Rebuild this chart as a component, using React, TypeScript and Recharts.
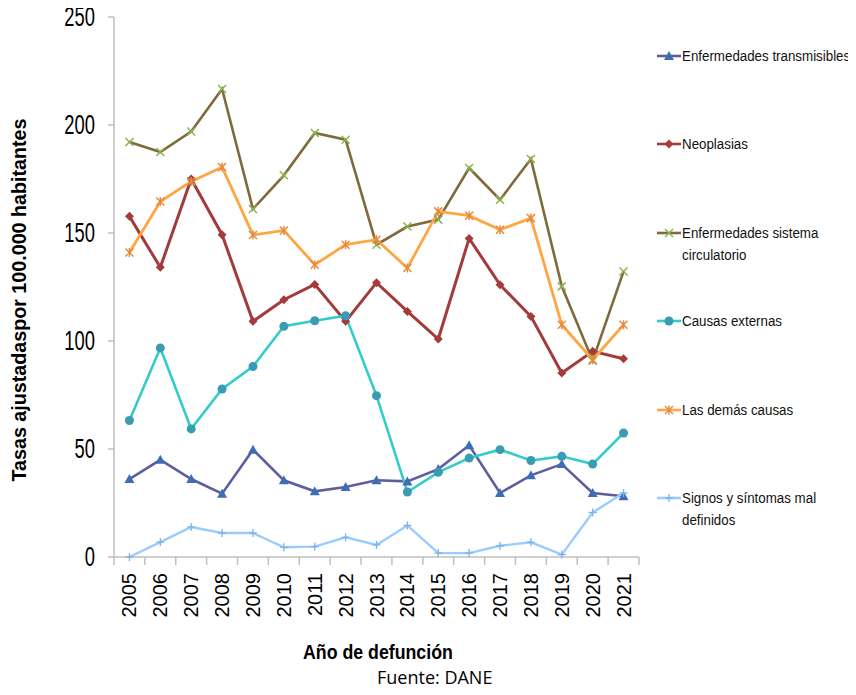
import React from 'react';
import { LineChart, Line, XAxis, YAxis } from 'recharts';

const years = [2005, 2006, 2007, 2008, 2009, 2010, 2011, 2012, 2013, 2014, 2015, 2016, 2017, 2018, 2019, 2020, 2021];

const transmisibles = [36.1, 45.0, 36.1, 29.3, 49.7, 35.5, 30.4, 32.4, 35.5, 35.0, 40.7, 51.7, 29.6, 37.8, 43.0, 29.6, 28.1];
const neoplasias = [157.7, 134.1, 175.0, 149.2, 109.1, 119.1, 126.2, 109.1, 127.0, 113.7, 100.9, 147.5, 126.0, 111.4, 85.2, 95.2, 91.8];
const circulatorio = [192.1, 187.5, 197.0, 216.7, 161.1, 176.7, 196.3, 193.2, 144.6, 153.0, 156.2, 180.1, 165.4, 184.3, 125.3, 90.9, 132.2];
const externas = [63.2, 96.8, 59.3, 77.8, 88.2, 106.8, 109.4, 111.7, 74.7, 30.1, 39.2, 45.8, 49.7, 44.7, 46.6, 43.0, 57.4];
const demas = [141.0, 164.6, 173.9, 180.5, 149.1, 151.2, 135.3, 144.6, 146.9, 133.8, 160.0, 158.0, 151.5, 156.9, 107.5, 91.3, 107.5];
const signos = [0, 6.9, 13.9, 11.1, 11.1, 4.5, 4.8, 9.1, 5.6, 14.6, 1.8, 1.8, 5.2, 6.8, 1.1, 20.6, 29.6];

const yTicks = [0, 50, 100, 150, 200, 250];

const data = years.map((year, i) => ({
  year,
  transmisibles: transmisibles[i],
  neoplasias: neoplasias[i],
  circulatorio: circulatorio[i],
  externas: externas[i],
  demas: demas[i],
  signos: signos[i],
}));

// tick positions: one per year (label) and one per category boundary (tick mark)
const xTicks = [years[0] - 0.5, ...years.flatMap((y) => [y, y + 0.5])];

type Marker = 'triangle' | 'diamond' | 'x' | 'circle' | 'star' | 'plus';

const series: { key: string; name: string; line: string; mark: string; marker: Marker; width: number }[] = [
  { key: 'transmisibles', name: 'Enfermedades transmisibles', line: '#5E5E9E', mark: '#3E6DB5', marker: 'triangle', width: 2.6 },
  { key: 'neoplasias', name: 'Neoplasias', line: '#A33B3B', mark: '#A33B3B', marker: 'diamond', width: 3 },
  { key: 'circulatorio', name: 'Enfermedades sistema circulatorio', line: '#7F6A3C', mark: '#8DB24F', marker: 'x', width: 2.6 },
  { key: 'externas', name: 'Causas externas', line: '#33CCCC', mark: '#3A9CB3', marker: 'circle', width: 2.6 },
  { key: 'demas', name: 'Las demás causas', line: '#FFA640', mark: '#E68A3C', marker: 'star', width: 2.8 },
  { key: 'signos', name: 'Signos y síntomas mal definidos', line: '#99CCFF', mark: '#7FB2E5', marker: 'plus', width: 2.4 },
];

const sans = "'Liberation Sans', Arial, sans-serif";

function MarkerShape({ type, cx, cy, color }: { type: Marker; cx: number; cy: number; color: string }) {
  switch (type) {
    case 'triangle':
      return <path d={`M${cx},${cy - 5} L${cx + 5},${cy + 4} L${cx - 5},${cy + 4} Z`} fill={color} />;
    case 'diamond':
      return <path d={`M${cx},${cy - 4.5} L${cx + 4.5},${cy} L${cx},${cy + 4.5} L${cx - 4.5},${cy} Z`} fill={color} />;
    case 'circle':
      return <circle cx={cx} cy={cy} r={4.5} fill={color} />;
    case 'x':
      return (
        <g stroke={color} strokeWidth={1.5}>
          <line x1={cx - 4} y1={cy - 4} x2={cx + 4} y2={cy + 4} />
          <line x1={cx - 4} y1={cy + 4} x2={cx + 4} y2={cy - 4} />
        </g>
      );
    case 'star':
      return (
        <g stroke={color} strokeWidth={1.5}>
          <line x1={cx - 4} y1={cy - 4} x2={cx + 4} y2={cy + 4} />
          <line x1={cx - 4} y1={cy + 4} x2={cx + 4} y2={cy - 4} />
          <line x1={cx} y1={cy - 4.5} x2={cx} y2={cy + 4.5} />
        </g>
      );
    case 'plus':
      return (
        <g stroke={color} strokeWidth={1.3}>
          <line x1={cx - 4} y1={cy} x2={cx + 4} y2={cy} />
          <line x1={cx} y1={cy - 4} x2={cx} y2={cy + 4} />
        </g>
      );
  }
}

const makeDot = (type: Marker, color: string) => (props: any) => {
  const { cx, cy, index } = props;
  if (cx == null || cy == null) return <g key={index} />;
  return (
    <g key={`${type}-${index}`}>
      <MarkerShape type={type} cx={cx} cy={cy} color={color} />
    </g>
  );
};

function XTick({ x, y, payload }: any) {
  const v = payload.value;
  if (v % 1 !== 0) {
    return <line x1={x} x2={x} y1={y} y2={y + 8} stroke="#BFBFBF" strokeWidth={1.5} />;
  }
  const ty = y + 16;
  return (
    <text
      x={x}
      y={ty}
      transform={`rotate(-90 ${x} ${ty})`}
      textAnchor="end"
      dominantBaseline="central"
      fontFamily={sans}
      fontSize={20}
      fill="#000"
    >
      {v}
    </text>
  );
}

function YTick({ x, y, payload }: any) {
  return (
    <text
      transform={`translate(${x},${y}) scale(0.68,1)`}
      textAnchor="end"
      dominantBaseline="central"
      fontFamily={sans}
      fontSize={27}
      fill="#000"
    >
      {payload.value}
    </text>
  );
}

function ChartLegend() {
  return (
    <div style={{ position: 'absolute', left: 649, top: 37, width: 199, fontFamily: sans, fontSize: 15.5, color: '#111' }}>
      {series.map((s) => (
        <div key={s.key} style={{ height: 88.4, display: 'flex', alignItems: 'flex-start' }}>
          <svg width={25} height={22} style={{ flex: 'none' }}>
            <line x1={0} y1={11} x2={24} y2={11} stroke={s.line} strokeWidth={2.6} />
            <MarkerShape type={s.marker} cx={12} cy={11} color={s.mark} />
          </svg>
          <span style={{ lineHeight: '22px', width: 198, flex: 'none', transform: 'scaleX(0.86)', transformOrigin: 'left top' }}>
            {s.name}
          </span>
        </div>
      ))}
    </div>
  );
}

export default function App() {
  return (
    <div style={{ position: 'relative', width: 840, height: 680 }}>
      <style>{`.recharts-surface { overflow: visible; }`}</style>
      <LineChart width={840} height={680} data={data} margin={{ top: 9, right: 209, left: 0, bottom: 0 }}>
        <XAxis
          dataKey="year"
          type="number"
          domain={[years[0] - 0.5, years[years.length - 1] + 0.5]}
          ticks={xTicks}
          interval={0}
          tick={<XTick />}
          tickLine={false}
          tickSize={0}
          tickMargin={0}
          height={131}
          axisLine={{ stroke: '#BFBFBF', strokeWidth: 1.5 }}
        />
        <YAxis
          domain={[0, 250]}
          ticks={yTicks}
          width={106}
          tickSize={6}
          tickMargin={13}
          tick={<YTick />}
          tickLine={{ stroke: '#BFBFBF', strokeWidth: 1.5 }}
          axisLine={{ stroke: '#BFBFBF', strokeWidth: 1.5 }}
        />
        {series.map((s) => (
          <Line
            key={s.key}
            dataKey={s.key}
            name={s.name}
            stroke={s.line}
            strokeWidth={s.width}
            dot={makeDot(s.marker, s.mark)}
            activeDot={false}
            isAnimationActive={false}
          />
        ))}
      </LineChart>
      <ChartLegend />
      <div style={{ position: 'absolute', left: 10.5, top: 292, width: 0, height: 0 }}>
        <div
          style={{
            position: 'absolute',
            transform: 'translate(-50%, -50%) rotate(-90deg)',
            whiteSpace: 'nowrap',
            fontFamily: sans,
            fontWeight: 'bold',
            fontSize: 19.7,
            color: '#000',
          }}
        >
          Tasas ajustadaspor 100.000 habitantes
        </div>
      </div>
      <div
        style={{
          position: 'absolute',
          left: 295,
          top: 633,
          fontFamily: sans,
          fontWeight: 'bold',
          fontSize: 19.5,
          color: '#000',
          whiteSpace: 'nowrap',
          transform: 'scaleX(0.91)',
          transformOrigin: 'left top',
        }}
      >
        Año de defunción
      </div>
      <div
        style={{
          position: 'absolute',
          left: 369,
          top: 657,
          fontFamily: "'Open Sans', 'Noto Sans', sans-serif",
          fontSize: 18,
          color: '#000',
          whiteSpace: 'nowrap',
        }}
      >
        Fuente: DANE
      </div>
    </div>
  );
}
